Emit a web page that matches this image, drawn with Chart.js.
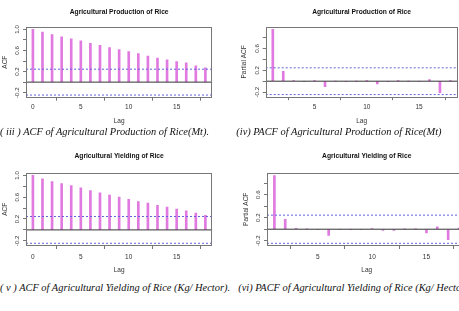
<!DOCTYPE html>
<html><head><meta charset="utf-8">
<script src="https://cdn.jsdelivr.net/npm/chart.js@4.4.1/dist/chart.umd.min.js"></script>
<style>
html,body{margin:0;padding:0;background:#fff;width:459px;height:311px;overflow:hidden;position:relative}
canvas{position:absolute}
.cap{position:absolute;font-family:'Liberation Serif','Times New Roman',serif;font-style:italic;font-size:10.4px;line-height:12px;white-space:nowrap;color:#111}
</style></head><body>
<canvas id="c1"></canvas>
<canvas id="c2"></canvas>
<canvas id="c3"></canvas>
<canvas id="c4"></canvas>
<div class="cap" style="left:0px;top:125.7px">( iii ) ACF of Agricultural Production of Rice(Mt).</div>
<div class="cap" style="left:236.3px;top:125.7px">(iv) PACF of Agricultural Production of Rice(Mt)</div>
<div class="cap" style="left:0px;top:282.3px">( v ) ACF of Agricultural Yielding of Rice (Kg/ Hector).</div>
<div class="cap" style="left:238.3px;top:282.3px">(vi) PACF of Agricultural Yielding of Rice (Kg/ Hector).</div>
<script>
// ---- data ----
const lagsACF = [0,1,2,3,4,5,6,7,8,9,10,11,12,13,14,15,16,17,18];
const lagsPACF = [1,2,3,4,5,6,7,8,9,10,11,12,13,14,15,16,17,18];
const acfProduction = [1.0,0.948,0.90,0.857,0.818,0.78,0.734,0.695,0.656,0.617,0.578,0.539,0.494,0.455,0.422,0.39,0.364,0.31,0.273];
const pacfProduction = [0.948,0.18,0.01,-0.01,0.005,-0.10,0.0,-0.005,0.0,0.005,-0.05,-0.01,0.005,0.0,-0.005,0.03,-0.21,0.005];
const acfYield = [1.0,0.935,0.886,0.85,0.814,0.77,0.72,0.68,0.64,0.60,0.56,0.52,0.49,0.45,0.416,0.38,0.35,0.31,0.265];
const pacfYield = [0.935,0.17,0.015,0.005,-0.01,-0.11,0.0,-0.005,0.0,0.01,-0.02,-0.02,0.005,0.005,-0.065,0.04,-0.18,0.02];
const confProduction = 0.245;
const confYield = 0.245;
const acfTickLabels = ['-0.2','0.2','0.6','1.0'];
const pacfTickLabels = ['-0.2','0.2','0.6'];
const titleProduction = 'Agricultural Production of Rice';
const titleYield = 'Agricultural Yielding of Rice';

// ---- styles ----
const BAR = '#e07ae0', CONF = '#6262dc', AXIS = '#777', TXT = '#333';
const FAM = "'Liberation Sans', Arial, sans-serif";

function panel(id, g, titleText, yTitle, lags, values, conf, xr, yr, yLabels) {
  const tFont = 6.7, tLH = tFont * 1.2, aFont = 6.5, aLH = aFont * 1.2;
  const cl = Math.floor(g.l - 26), ct = Math.floor(g.titleY - 8);
  const cr = Math.ceil(g.r + 4), cb = Math.ceil(g.lagY + 6);
  const el = document.getElementById(id);
  el.width = cr - cl; el.height = cb - ct;
  el.style.left = cl + 'px'; el.style.top = ct + 'px';
  const across = y => [{x: xr[0], y}, {x: xr[1], y}];
  new Chart(el, {
    type: 'bar',
    data: {datasets: [
      {type: 'line', data: across(0), borderColor: '#333', borderWidth: 1, pointRadius: 0, order: 1},
      {type: 'line', data: across(conf), borderColor: CONF, borderWidth: 1, borderDash: [2, 2], pointRadius: 0, order: 1},
      {type: 'line', data: across(-conf), borderColor: CONF, borderWidth: 1, borderDash: [2, 2], pointRadius: 0, order: 1},
      {type: 'bar', data: lags.map((x, i) => ({x, y: values[i]})), backgroundColor: BAR, borderWidth: 0, barThickness: 2, order: 2}
    ]},
    options: {
      responsive: false, animation: false, devicePixelRatio: 1,
      layout: {padding: {left: g.l - 26 - cl, top: 0, right: cr - g.r, bottom: cb - (g.lagY + aLH / 2)}},
      plugins: {
        legend: {display: false}, tooltip: {enabled: false},
        title: {display: true, text: titleText, fullSize: false, color: '#111',
          font: {family: FAM, size: tFont, weight: 'bold', lineHeight: 1.2},
          padding: {top: g.titleY - tLH / 2 - ct, bottom: g.t - g.titleY - tLH / 2}}
      },
      scales: {
        x: {type: 'linear', min: xr[0], max: xr[1], offset: false, border: {display: false},
          grid: {drawOnChartArea: false, drawTicks: true, tickLength: 3, color: AXIS},
          ticks: {stepSize: 5, includeBounds: false, padding: g.tickY - g.b - 3 - aLH / 2, color: TXT,
            font: {family: FAM, size: aFont, lineHeight: 1.2}, maxRotation: 0, autoSkip: false},
          title: {display: true, text: 'Lag', color: TXT, font: {family: FAM, size: aFont, lineHeight: 1.2}, padding: 0},
          afterFit: s => { s.height = g.lagY + aLH / 2 - g.b; }
        },
        y: {type: 'linear', min: yr[0], max: yr[1], border: {display: false},
          grid: {drawOnChartArea: false, drawTicks: true, tickLength: 3, color: AXIS},
          ticks: {display: false, stepSize: 0.2, includeBounds: false},
          title: {display: true, text: yTitle, color: TXT, font: {family: FAM, size: aFont, lineHeight: 1.2}, padding: {top: 1.1, bottom: 0}},
          afterFit: s => { s.width = 26; }
        }
      }
    },
    plugins: [{
      id: 'rbox',
      afterDraw(c) {
        const a = c.chartArea, ctx = c.ctx;
        ctx.save();
        ctx.strokeStyle = AXIS; ctx.lineWidth = 1;
        ctx.strokeRect(Math.round(a.left) + 0.5, Math.round(a.top) + 0.5, Math.round(a.right - a.left) - 1, Math.round(a.bottom - a.top) - 1);
        ctx.fillStyle = TXT;
        ctx.font = '6.2px ' + FAM;
        ctx.textAlign = 'center'; ctx.textBaseline = 'middle';
        yLabels.forEach(s => {
          const y = c.scales.y.getPixelForValue(parseFloat(s));
          ctx.save();
          ctx.translate(a.left - 8.3, y);
          ctx.rotate(-Math.PI / 2);
          ctx.fillText(s, 0, 0);
          ctx.restore();
        });
        ctx.restore();
      }
    }]
  });
}

panel('c1', {l: 26, t: 26.7, r: 212.3, b: 97.7, titleY: 12.3, tickY: 107.3, lagY: 121},
  titleProduction, 'ACF', lagsACF, acfProduction, confProduction, [-0.72, 18.72], [-0.295, 1.05], acfTickLabels);
panel('c2', {l: 265.7, t: 26.7, r: 457.5, b: 97.2, titleY: 12.3, tickY: 107.3, lagY: 121},
  titleProduction, 'Partial ACF', lagsPACF, pacfProduction, confProduction, [0.32, 18.68], [-0.293, 0.998], pacfTickLabels);
panel('c3', {l: 26, t: 172.6, r: 212.3, b: 246, titleY: 156, tickY: 256.8, lagY: 270.5},
  titleYield, 'ACF', lagsACF, acfYield, confYield, [-0.72, 18.72], [-0.295, 1.05], acfTickLabels);
panel('c4', {l: 267, t: 172.6, r: 466.4, b: 246, titleY: 156, tickY: 256.8, lagY: 270.5},
  titleYield, 'Partial ACF', lagsPACF, pacfYield, confYield, [0.32, 18.68], [-0.292, 0.985], pacfTickLabels);
</script>
</body></html>
